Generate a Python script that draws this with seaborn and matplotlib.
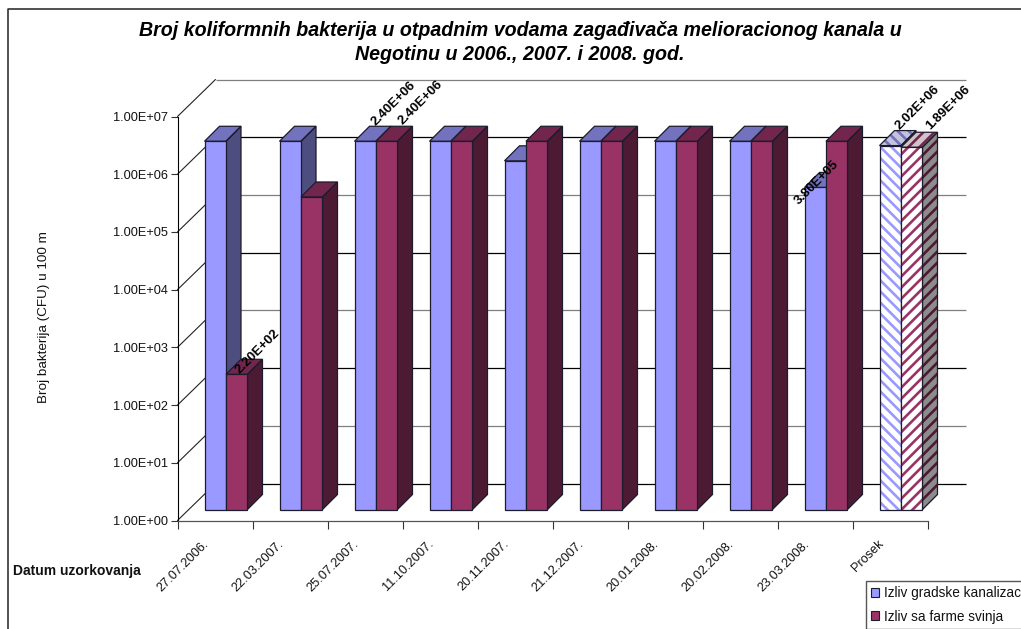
import matplotlib
matplotlib.use("Agg")
import matplotlib.pyplot as plt
import pandas as pd
import seaborn as sns
from matplotlib.lines import Line2D
from matplotlib.patches import Patch, Polygon
from matplotlib.ticker import FuncFormatter, NullLocator
from matplotlib.transforms import Affine2D, IdentityTransform

# -----------------------
# Data
# -----------------------
dates = ["27.07.2006.", "22.03.2007.", "25.07.2007.", "11.10.2007.", "20.11.2007.",
         "21.12.2007.", "20.01.2008.", "20.02.2008.", "23.03.2008.", "Prosek"]
series_names = ["Izliv gradske kanalizacije", "Izliv sa farme svinja"]
kanalizacija = [2.4e6, 2.4e6, 2.4e6, 2.4e6, 1.1e6, 2.4e6, 2.4e6, 2.4e6, 3.8e5, 2.02e6]
farma = [2.2e2, 2.6e5, 2.4e6, 2.4e6, 2.4e6, 2.4e6, 2.4e6, 2.4e6, 2.4e6, 1.89e6]
y_ticks = [1e0, 1e1, 1e2, 1e3, 1e4, 1e5, 1e6, 1e7]

df = pd.DataFrame({
    "datum": dates * 2,
    "serija": [series_names[0]] * len(dates) + [series_names[1]] * len(dates),
    "broj": kanalizacija + farma,
})

W, H = 1021, 629
BAR_SHIFT = 11   # bars stand this many px behind the front plane
DEPTH = 15       # depth of a bar
WALL_X, WALL_Y = 38, 37

FRONT = ["#9999ff", "#993366"]
TOP = ["#7272bf", "#73264d"]
SIDE = ["#4d4d80", "#4d1a33"]
TOP_LIGHT = ["#c3c3dd", "#d2c2ca"]
SIDE_LIGHT = ["#8c8c9a", "#8c8c8c"]
EDGE = "#1c1c2c"

sns.set_theme(style="white")
plt.rcParams["font.family"] = ["Liberation Sans", "DejaVu Sans"]
plt.rcParams["hatch.linewidth"] = 1.9

fig = plt.figure(figsize=(W / 100, H / 100), dpi=100)
ax = fig.add_axes([177.5 / W, 1 - 520.5 / H, 750 / W, 404 / H])
ax.set_yscale("log")

sns.barplot(data=df, x="datum", y="broj", hue="serija", order=dates,
            hue_order=series_names, palette=FRONT, width=0.573, gap=0,
            saturation=1, legend=False, ax=ax)
ax.set_ylim(1, 1e7)
ax.set_xlim(-0.5, len(dates) - 0.5)


def shifted(dx, dy):
    return ax.transData + Affine2D().translate(dx, dy)


# -----------------------
# Walls: grid on the back, diagonals on the left
# -----------------------
for i, val in enumerate(y_ticks):
    col = "#000000" if i % 2 == 0 else "#7f7f7f"
    ax.plot([-0.5, len(dates) - 0.5], [val, val], color=col, lw=0.9, zorder=1,
            clip_on=False, solid_capstyle="butt", transform=shifted(WALL_X, WALL_Y))
    x0, y0 = ax.transData.transform((-0.5, val))
    ax.add_line(Line2D([x0, x0 + WALL_X], [y0, y0 + WALL_Y], color="#222222", lw=0.8,
                       zorder=1, transform=IdentityTransform(), clip_on=False))

# -----------------------
# Bars: front from seaborn, side and top faces added from each bar
# -----------------------
order = 10
for cat in range(len(dates)):
    for s, container in enumerate(ax.containers):
        bar = container[cat]
        value = bar.get_height()
        x0, x1 = bar.get_x(), bar.get_x() + bar.get_width()
        bar.set_y(1)
        bar.set_height(value - 1)
        bar.set_transform(shifted(BAR_SHIFT, BAR_SHIFT))
        bar.set_clip_on(False)

        xa, yb = ax.transData.transform((x0, 1)) + BAR_SHIFT
        xb, yt = ax.transData.transform((x1, value)) + BAR_SHIFT
        side_pts = [(xb, yb), (xb + DEPTH, yb + DEPTH), (xb + DEPTH, yt + DEPTH), (xb, yt)]
        top_pts = [(xa, yt), (xa + DEPTH, yt + DEPTH), (xb + DEPTH, yt + DEPTH), (xb, yt)]

        is_mean = dates[cat] == "Prosek"
        hatch = ("\\\\\\" if s == 0 else "///") if is_mean else None
        for pts, solid, light in ((side_pts, SIDE[s], SIDE_LIGHT[s]), (top_pts, TOP[s], TOP_LIGHT[s])):
            if is_mean:
                ax.add_patch(Polygon(pts, facecolor=light, edgecolor=solid, hatch=hatch, lw=0,
                                     transform=IdentityTransform(), clip_on=False, zorder=order))
            else:
                ax.add_patch(Polygon(pts, facecolor=solid, edgecolor="none",
                                     transform=IdentityTransform(), clip_on=False, zorder=order))
            ax.add_patch(Polygon(pts, fill=False, edgecolor=EDGE, lw=0.9,
                                 transform=IdentityTransform(), clip_on=False, zorder=order + 1))
        order += 2

        front_pts = [(xa, yb), (xb, yb), (xb, yt), (xa, yt)]
        if is_mean:
            bar.set_facecolor("white")
            bar.set_edgecolor(FRONT[s])
            bar.set_hatch(hatch)
        bar.set_linewidth(0)
        bar.set_zorder(order)
        ax.add_patch(Polygon(front_pts, fill=False, edgecolor=EDGE, lw=0.9,
                             transform=IdentityTransform(), clip_on=False, zorder=order + 1))
        order += 2

# -----------------------
# Value labels (only some bars have one)
# -----------------------
label_offsets = {
    (1, 0): (21, -23),
    (0, 2): (28, -38),
    (1, 2): (34, -39),
    (0, 8): (1, -5),
    (0, 9): (27, -38),
    (1, 9): (36, -40),
}
for (s, cat), (off_x, off_y) in label_offsets.items():
    bar = ax.containers[s][cat]
    value = bar.get_y() + bar.get_height()
    ax.annotate(f"{value:.2E}", xy=(bar.get_x() + bar.get_width() / 2, value),
                xycoords=shifted(BAR_SHIFT, BAR_SHIFT), xytext=(off_x, -off_y),
                textcoords="offset pixels", rotation=45, ha="center", va="center",
                fontsize=9.5, fontweight="bold", color="black", zorder=order + 5,
                annotation_clip=False)

# -----------------------
# Axes
# -----------------------
sns.despine(ax=ax, top=True, right=True)
ax.spines["left"].set_color("black")
ax.spines["left"].set_linewidth(0.8)
ax.spines["bottom"].set_color("#555555")
ax.spines["bottom"].set_linewidth(0.9)

ax.set_yticks(y_ticks)
ax.yaxis.set_minor_locator(NullLocator())
ax.yaxis.set_major_formatter(FuncFormatter(lambda v, _: f"{v:.2E}"))
ax.tick_params(axis="y", which="major", left=True, length=5, width=0.8, color="#333333",
               labelsize=9.2, labelcolor="#111111", pad=2)

positions = list(range(len(dates)))
ax.set_xticks([p - 0.5 for p in positions] + [len(dates) - 0.5])
ax.set_xticklabels([])
# labels end left of the category centre, as in the original
ax.set_xticks([p - 0.16 for p in positions], dates, minor=True)
ax.tick_params(axis="x", which="major", bottom=True, length=5.5, width=0.8, color="#333333")
ax.tick_params(axis="x", which="minor", bottom=False, labelsize=9.2, labelcolor="#111111", pad=8.5)
for lab in ax.get_xticklabels(minor=True):
    lab.set_rotation(45)
    lab.set_ha("right")
    lab.set_rotation_mode("anchor")

ax.set_xlabel("")
ax.set_ylabel("Broj bakterija (CFU) u 100 m", fontsize=9.7, color="#111111")
ax.yaxis.set_label_coords((50 - 177.5) / 750, (520.5 - 317) / 404)

# -----------------------
# Title, frame, side label, legend
# -----------------------
fig.text(520 / W, 1 - 30 / H, "Broj koliformnih bakterija u otpadnim vodama zagađivača melioracionog kanala u",
         ha="center", va="center", fontsize=14.1, fontweight="bold", fontstyle="italic", color="black")
fig.text(520 / W, 1 - 55 / H, "Negotinu u 2006., 2007. i 2008. god.",
         ha="center", va="center", fontsize=14.1, fontweight="bold", fontstyle="italic", color="black")
fig.text(13 / W, 1 - 571 / H, "Datum uzorkovanja", ha="left", va="center",
         fontsize=10, fontweight="bold", color="#111111")

fig.add_artist(Line2D([7.5 / W, 7.5 / W, 1], [0, 1 - 8.5 / H, 1 - 8.5 / H], color="#222222", lw=1.1))

handles = [Patch(facecolor=FRONT[i], edgecolor=EDGE, lw=0.8) for i in range(2)]
ax.legend(handles, series_names, loc="upper left", bbox_to_anchor=(866 / W, 1 - 581 / H),
          bbox_transform=fig.transFigure, borderaxespad=0, fancybox=False, framealpha=1,
          edgecolor="#555555", fontsize=9.8, handlelength=0.6, handleheight=0.6,
          handletextpad=0.37, labelspacing=0.7, borderpad=0.37, labelcolor="#111111")

fig.savefig("out.png", dpi=100)
